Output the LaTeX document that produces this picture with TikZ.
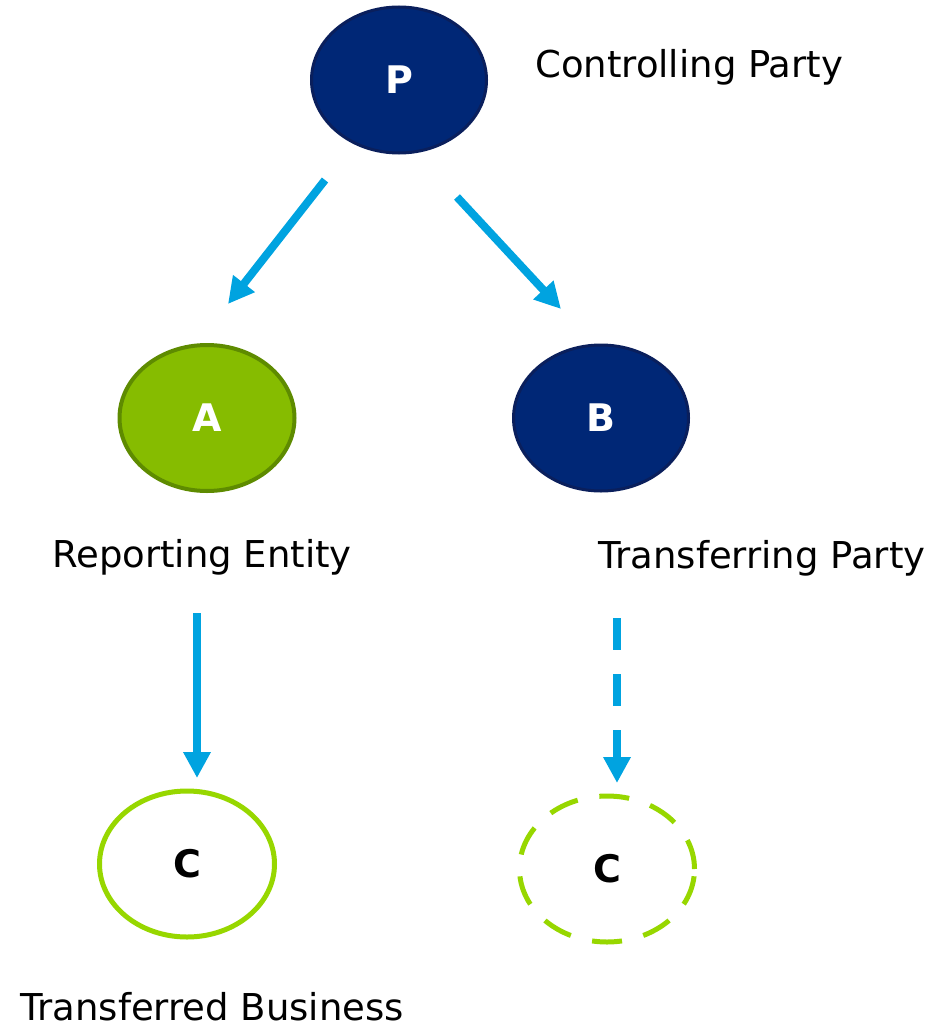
\documentclass[tikz,border=0pt]{standalone}
\usepackage{fontspec}
\setmainfont{DejaVu Sans}
\usetikzlibrary{arrows.meta,shapes.geometric}
\definecolor{navy}{HTML}{002776}
\definecolor{navyedge}{HTML}{0A1F5C}
\definecolor{lgreen}{HTML}{86BC00}
\definecolor{dgreen}{HTML}{5E8B00}
\definecolor{bgreen}{HTML}{97D700}
\definecolor{arrowblue}{HTML}{00A3E0}
\begin{document}
\begin{tikzpicture}[x=1pt,y=-1pt,
  ent/.style={ellipse,minimum width=175pt,minimum height=146pt,inner sep=0pt,font=\fontsize{38}{42}\selectfont\bfseries},
  navyent/.style={ent,fill=navy,draw=navyedge,line width=3pt,text=white},
  greenent/.style={ent,fill=lgreen,draw=dgreen,line width=4pt,text=white},
  outent/.style={ent,draw=bgreen,line width=5pt,text=black},
  lbl/.style={anchor=base west,inner sep=0pt,font=\fontsize{37}{40}\selectfont},
  conn/.style={draw=arrowblue,line width=8pt,-{Triangle[length=26pt,width=26pt]}}]
\useasboundingbox (0,0) rectangle (936,1030);
\node[navyent] (P) at (399,80) {P};
\node[greenent] (A) at (207,418) {A};
\node[navyent] (B) at (601,418) {B};
\node[outent] (C1) at (187,864) {C};
\node[outent,dash pattern=on 30pt off 22pt] (C2) at (607,869) {C};
\node[lbl] (lP) at (535,78) {Controlling Party};
\node[lbl] (lA) at (52,567) {Reporting Entity};
\node[lbl] (lB) at (598,568) {Transferring Party};
\node[lbl] (lC) at (20,1020) {Transferred Business};
\coordinate (pa1) at (325,180);
\coordinate (pa2) at (228,304);
\coordinate (pb1) at (457,197);
\coordinate (pb2) at (561,309);
\coordinate (ac1) at (197,613);
\coordinate (ac2) at (197,778);
\coordinate (bc1) at (617,618);
\coordinate (bc2) at (617,783);
\draw[conn] (pa1) -- (pa2);
\draw[conn] (pb1) -- (pb2);
\draw[conn] (ac1) -- (ac2);
\draw[conn,dash pattern=on 32pt off 24pt] (bc1) -- (bc2);
\end{tikzpicture}
\end{document}
